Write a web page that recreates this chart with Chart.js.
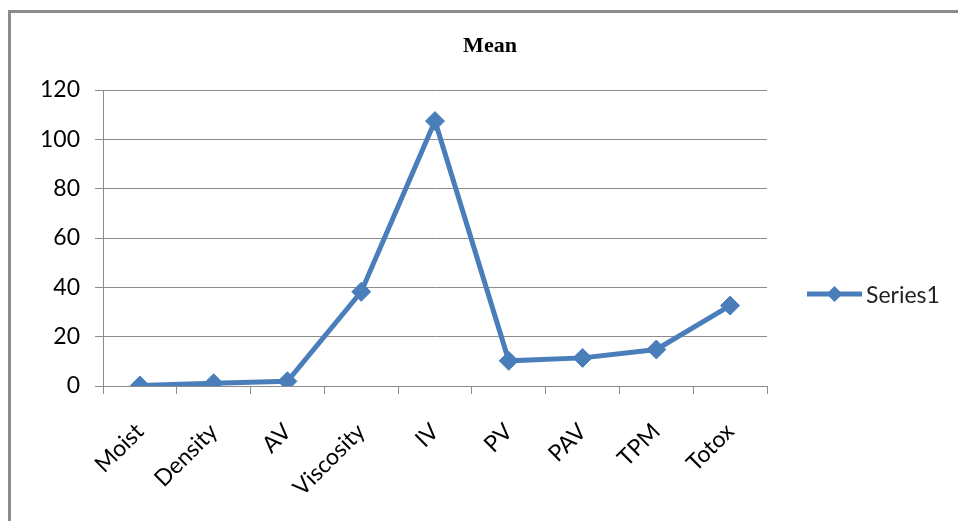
<!DOCTYPE html>
<html>
<head>
<meta charset="utf-8">
<script src="https://cdn.jsdelivr.net/npm/chart.js@4/dist/chart.umd.min.js"></script>
<style>
  html, body { margin: 0; padding: 0; background: #fff; }
  #wrap { position: relative; width: 958px; height: 521px; overflow: hidden; }
  #c { position: absolute; left: 0; top: 0; }
  #frame {
    position: absolute; left: 8px; top: 10px; width: 960px; height: 520px;
    border-top: 3px solid #8c8c8c; border-left: 3px solid #8c8c8c;
    box-sizing: border-box; pointer-events: none;
  }
</style>
</head>
<body>
<div id="wrap">
  <canvas id="c" width="958" height="521"></canvas>
  <div id="frame"></div>
</div>
<script>
// Mean value of each oil quality parameter
const categories = ['Moist', 'Density', 'AV', 'Viscosity', 'IV', 'PV', 'PAV', 'TPM', 'Totox'];
const meanValues = [0.2, 1.1, 1.9, 38.2, 107.4, 10.2, 11.4, 14.8, 32.6];
const yTicks = [0, 20, 40, 60, 80, 100, 120];
const seriesName = 'Series1';
const chartTitle = 'Mean';

const BLUE = '#4a7ebb';
const GRID = '#8c8c8c';
const TICK_FONT = { family: 'Lato', size: 23 };

// Chart heading, centred over the plot and legend together
const headTitle = {
  id: 'headTitle',
  afterDraw(chart) {
    const ctx = chart.ctx;
    ctx.save();
    ctx.fillStyle = '#000';
    ctx.font = 'bold 22px "Liberation Serif"';
    ctx.textAlign = 'center';
    ctx.textBaseline = 'alphabetic';
    ctx.fillText(chartTitle, 490, 52);
    ctx.restore();
  }
};

// Legend entry on the right: line segment with a diamond and the series name
const sideLegend = {
  id: 'sideLegend',
  afterDraw(chart) {
    const ctx = chart.ctx;
    const ds = chart.data.datasets[0];
    const y = 294;
    ctx.save();
    ctx.strokeStyle = ds.borderColor;
    ctx.lineWidth = ds.borderWidth;
    ctx.beginPath();
    ctx.moveTo(807, y);
    ctx.lineTo(862, y);
    ctx.stroke();
    ctx.fillStyle = ds.pointBackgroundColor;
    ctx.beginPath();
    ctx.moveTo(834.5, y - 8);
    ctx.lineTo(842.5, y);
    ctx.lineTo(834.5, y + 8);
    ctx.lineTo(826.5, y);
    ctx.closePath();
    ctx.fill();
    ctx.fillStyle = '#222';
    ctx.font = '23px Lato';
    ctx.textBaseline = 'alphabetic';
    ctx.textAlign = 'left';
    ctx.fillText(ds.label, 866, 302.5);
    ctx.restore();
  }
};

new Chart(document.getElementById('c'), {
  type: 'line',
  data: {
    labels: categories,
    datasets: [{
      label: seriesName,
      data: meanValues,
      borderColor: BLUE,
      backgroundColor: BLUE,
      borderWidth: 5,
      pointStyle: 'rectRot',
      pointRadius: 9.5,
      pointBorderWidth: 1,
      pointBackgroundColor: BLUE,
      pointBorderColor: BLUE,
      tension: 0,
      fill: false
    }]
  },
  options: {
    responsive: false,
    animation: false,
    devicePixelRatio: 1,
    layout: { padding: { left: 0, right: 191, top: 90, bottom: 0 } },
    plugins: {
      legend: { display: false },
      tooltip: { enabled: false },
      title: { display: false }
    },
    scales: {
      x: {
        type: 'category',
        offset: true,
        afterFit(scale) { scale.height = 135; },
        grid: {
          offset: true,
          drawOnChartArea: false,
          drawTicks: true,
          tickLength: 8,
          color: GRID,
          lineWidth: 1
        },
        border: { display: true, color: GRID, width: 1 },
        ticks: {
          autoSkip: false,
          maxRotation: 45,
          minRotation: 45,
          padding: 24,
          color: '#000',
          font: TICK_FONT
        }
      },
      y: {
        min: 0,
        max: 120,
        afterFit(scale) { scale.width = 103; },
        afterBuildTicks(scale) { scale.ticks = yTicks.map(v => ({ value: v })); },
        grid: {
          drawTicks: true,
          tickLength: 8,
          color: GRID,
          lineWidth: 1
        },
        border: { display: true, color: GRID, width: 1 },
        ticks: {
          padding: 15,
          color: '#000',
          font: TICK_FONT
        }
      }
    }
  },
  plugins: [headTitle, sideLegend]
});
</script>
</body>
</html>
